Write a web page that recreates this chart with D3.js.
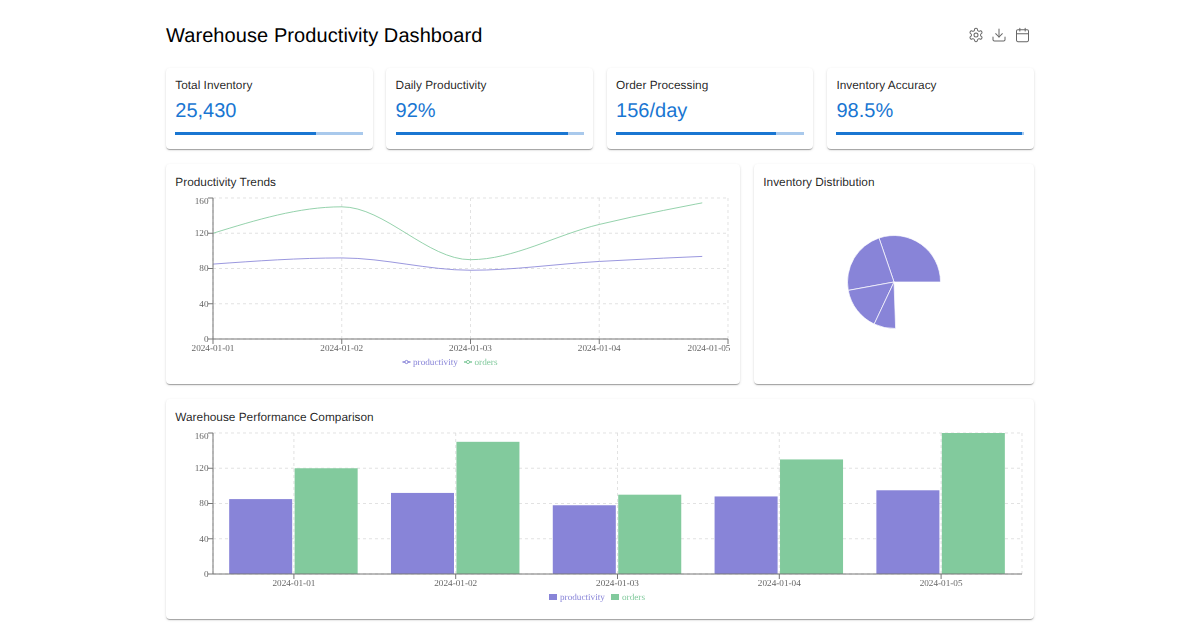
<!DOCTYPE html>
<html>
<head>
<meta charset="utf-8">
<script src="https://cdn.jsdelivr.net/npm/d3@7"></script>
<style>
  html, body { margin: 0; background: #fff; font-family: "Liberation Sans", Arial, sans-serif; text-rendering: geometricPrecision; }
  #page { position: relative; width: 1200px; height: 630px; overflow: hidden; }
  .title { position: absolute; left: 166px; top: 23px; font-size: 20px; line-height: 27px; letter-spacing: .08px; color: #000; }
  .card { position: absolute; background: #fff; border-radius: 4px;
    box-shadow: 0 2px 1px -1px rgba(0,0,0,.2), 0 1px 1px 0 rgba(0,0,0,.14), 0 1px 3px 0 rgba(0,0,0,.12); }
  .card-label { position: absolute; left: 9.3px; font-size: 11.85px; line-height: 16px; color: rgba(0,0,0,.87); white-space: nowrap; }
  .kpi-value { position: absolute; left: 9.3px; top: 30px; font-size: 20px; line-height: 27px; color: #1976d2; }
  .track { position: absolute; left: 9.3px; right: 9.3px; top: 64px; height: 3px; background: #a9c9ec; }
  .fill { height: 100%; background: #1976d2; }
  svg.over { position: absolute; left: 0; top: 0; will-change: transform; }
  svg text { font-family: "Liberation Serif", "Times New Roman", serif; text-rendering: geometricPrecision; }
</style>
</head>
<body>
<div id="page">
  <div class="title">Warehouse Productivity Dashboard</div>
</div>
<script>
// values
const dates = ["2024-01-01", "2024-01-02", "2024-01-03", "2024-01-04", "2024-01-05"];
const productivity = [85, 92, 78, 88, 95];
const orders = [120, 150, 90, 130, 160];
const yTicks = [0, 40, 80, 120, 160];
const pieValues = [40, 30, 20, 10];
const kpiNames = ["Total Inventory", "Daily Productivity", "Order Processing", "Inventory Accuracy"];
const kpiValues = ["25,430", "92%", "156/day", "98.5%"];
const kpiProgress = [75, 92, 85, 98.5];

const purple = "#8884d8", green = "#82ca9d";
const axisFont = 9.2;
const page = d3.select("#page");

function card(x, y, w, h) {
  return page.append("div").attr("class", "card")
    .style("left", x + "px").style("top", y + "px")
    .style("width", w + "px").style("height", h + "px");
}

// kpi cards
const kpiX = [166, 386.3, 606.8, 827.2];
kpiNames.forEach((name, i) => {
  const c = card(kpiX[i], 68, 206.5, 81);
  c.append("div").attr("class", "card-label").style("top", "9px").text(name);
  c.append("div").attr("class", "kpi-value").text(kpiValues[i]);
  c.append("div").attr("class", "track")
    .append("div").attr("class", "fill").style("width", kpiProgress[i] + "%");
});

// chart cards
card(166, 164, 574, 220).append("div").attr("class", "card-label").style("top", "10px").text("Productivity Trends");
card(754, 164, 280, 220).append("div").attr("class", "card-label").style("top", "10px").text("Inventory Distribution");
card(166, 399, 868, 220).append("div").attr("class", "card-label").style("top", "10px").text("Warehouse Performance Comparison");

const svg = page.append("svg").attr("class", "over").attr("width", 1200).attr("height", 630);

// header icons
const icons = [
  { x: 968, parts: [
    ["path", { d: "M12.22 2h-.44a2 2 0 0 0-2 2v.18a2 2 0 0 1-1 1.73l-.43.25a2 2 0 0 1-2 0l-.15-.08a2 2 0 0 0-2.73.73l-.22.38a2 2 0 0 0 .73 2.73l.15.1a2 2 0 0 1 1 1.72v.51a2 2 0 0 1-1 1.74l-.15.09a2 2 0 0 0-.73 2.73l.22.38a2 2 0 0 0 2.73.73l.15-.08a2 2 0 0 1 2 0l.43.25a2 2 0 0 1 1 1.73V20a2 2 0 0 0 2 2h.44a2 2 0 0 0 2-2v-.18a2 2 0 0 1 1-1.73l.43-.25a2 2 0 0 1 2 0l.15.08a2 2 0 0 0 2.73-.73l.22-.39a2 2 0 0 0-.73-2.73l-.15-.08a2 2 0 0 1-1-1.74v-.5a2 2 0 0 1 1-1.74l.15-.09a2 2 0 0 0 .73-2.73l-.22-.38a2 2 0 0 0-2.73-.73l-.15.08a2 2 0 0 1-2 0l-.43-.25a2 2 0 0 1-1-1.73V4a2 2 0 0 0-2-2z" }],
    ["circle", { cx: 12, cy: 12, r: 3 }]] },
  { x: 991, parts: [
    ["path", { d: "M21 15v4a2 2 0 0 1-2 2H5a2 2 0 0 1-2-2v-4" }],
    ["path", { d: "M7 10l5 5 5-5" }],
    ["path", { d: "M12 15V3" }]] },
  { x: 1014.5, parts: [
    ["rect", { x: 3, y: 4, width: 18, height: 18, rx: 2 }],
    ["path", { d: "M16 2v4M8 2v4M3 10h18" }]] }
];
icons.forEach(ic => {
  const g = svg.append("g")
    .attr("transform", `translate(${ic.x},27) scale(0.667)`)
    .attr("fill", "none").attr("stroke", "#666").attr("stroke-width", 1.5)
    .attr("stroke-linecap", "round").attr("stroke-linejoin", "round");
  ic.parts.forEach(([tag, attrs]) => {
    const el = g.append(tag);
    Object.keys(attrs).forEach(k => el.attr(k, attrs[k]));
  });
});

// shared grid and axes for the two cartesian charts
function drawGrid(y, gridX, box) {
  const grid = svg.append("g").attr("stroke", "#ddd").attr("stroke-width", 0.85)
    .attr("stroke-dasharray", "3 3").attr("fill", "none");
  yTicks.forEach(t => grid.append("line").attr("x1", box.left).attr("x2", box.right).attr("y1", y(t)).attr("y2", y(t)));
  gridX.forEach(v => grid.append("line").attr("x1", v).attr("x2", v).attr("y1", box.top).attr("y2", box.bottom));
}

function drawAxes(x, y, box, shiftLast) {
  const gx = svg.append("g").attr("transform", `translate(0,${box.bottom})`)
    .call(d3.axisBottom(x).offset(0).tickSize(5).tickPadding(0).tickSizeOuter(0));
  const gy = svg.append("g").attr("transform", `translate(${box.left},0)`)
    .call(d3.axisLeft(y).offset(0).tickValues(yTicks).tickSize(5).tickPadding(-0.5).tickSizeOuter(0));
  [gx, gy].forEach(g => {
    g.selectAll("text").attr("font-family", null).attr("font-size", axisFont).attr("fill", "#666");
    g.selectAll("line").attr("stroke", "#777");
    g.select(".domain").attr("stroke", "#777");
  });
  gy.selectAll("text").filter(d => d === 160).attr("dy", "0.62em");
  if (shiftLast) gx.selectAll("text").filter((d, i) => i === dates.length - 1).attr("dx", -19);
}

// line chart
const lineBox = { left: 213, right: 728, top: 198, bottom: 339 };
const xLine = d3.scalePoint().domain(dates).range([lineBox.left, lineBox.right]);
const yLine = d3.scaleLinear().domain([0, 160]).range([lineBox.bottom, lineBox.top]);
drawGrid(yLine, dates.map(xLine), lineBox);
svg.append("clipPath").attr("id", "reveal").append("rect")
  .attr("x", lineBox.left).attr("y", lineBox.top - 5)
  .attr("width", (lineBox.right - lineBox.left) * 0.95).attr("height", 160);
const line = d3.line().x((d, i) => xLine(dates[i])).y(d => yLine(d)).curve(d3.curveMonotoneX);
[[productivity, purple], [orders, green]].forEach(([vals, col]) => {
  svg.append("path").datum(vals).attr("d", line)
    .attr("fill", "none").attr("stroke", col).attr("stroke-width", 0.85)
    .attr("clip-path", "url(#reveal)");
});
drawAxes(xLine, yLine, lineBox, true);

// line legend
[["productivity", purple, 402.5], ["orders", green, 464]].forEach(([name, col, lx]) => {
  const g = svg.append("g").attr("transform", `translate(${lx},362)`);
  g.append("line").attr("x1", 0).attr("x2", 8).attr("stroke", col).attr("stroke-width", 1.5);
  g.append("circle").attr("cx", 4).attr("r", 1.6).attr("fill", "#fff").attr("stroke", col);
  g.append("text").attr("x", 10.5).attr("y", 3).attr("font-size", axisFont).attr("fill", col).text(name);
});

// pie
const pie = d3.pie().sort(null)
  .startAngle(Math.PI / 2)
  .endAngle(Math.PI / 2 - 272 * Math.PI / 180);
const arc = d3.arc().innerRadius(0).outerRadius(46.5);
svg.append("g").attr("transform", "translate(894,282)")
  .selectAll("path").data(pie(pieValues)).join("path")
  .attr("d", arc).attr("fill", purple).attr("stroke", "#fff").attr("stroke-width", 0.7);

// bars
const barBox = { left: 213, right: 1022, top: 433, bottom: 574 };
const xBar = d3.scaleBand().domain(dates).range([barBox.left, barBox.right]);
const yBar = d3.scaleLinear().domain([0, 160]).range([barBox.bottom, barBox.top]);
const xSub = d3.scaleBand().domain(["productivity", "orders"])
  .range([xBar.bandwidth() * 0.1, xBar.bandwidth() * 0.894]).paddingInner(0.037);
const gridBarX = [barBox.left].concat(dates.map(d => xBar(d) + xBar.bandwidth() / 2), [barBox.right]);
drawGrid(yBar, gridBarX, barBox);
[["productivity", productivity, purple], ["orders", orders, green]].forEach(([key, vals, col]) => {
  svg.append("g").selectAll("rect").data(vals).join("rect")
    .attr("x", (d, i) => xBar(dates[i]) + xSub(key))
    .attr("y", d => yBar(d))
    .attr("width", xSub.bandwidth())
    .attr("height", d => yBar(0) - yBar(d))
    .attr("fill", col);
});
drawAxes(xBar, yBar, barBox, false);

// bar legend
[["productivity", purple, 549], ["orders", green, 611]].forEach(([name, col, lx]) => {
  const g = svg.append("g").attr("transform", `translate(${lx},597)`);
  g.append("rect").attr("y", -3).attr("width", 8).attr("height", 6).attr("fill", col);
  g.append("text").attr("x", 11).attr("y", 3).attr("font-size", axisFont).attr("fill", col).text(name);
});
</script>
</body>
</html>
